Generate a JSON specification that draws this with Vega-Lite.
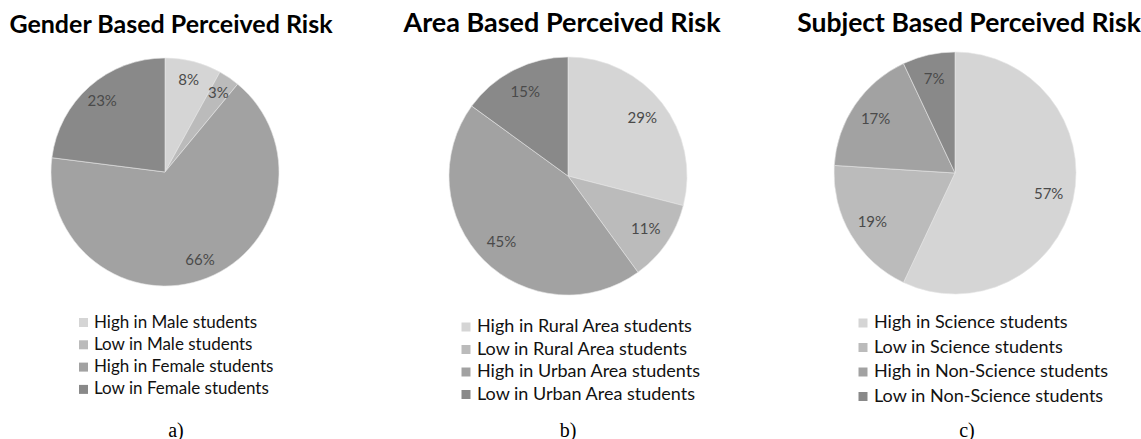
{
  "$schema": "https://vega.github.io/schema/vega-lite/v6.json",
  "background": "white",
  "padding": {"left": 0, "top": 10, "right": 0, "bottom": 0},
  "config": {
    "view": {"stroke": null},
    "font": "Lato",
    "title": {"font": "Lato", "fontSize": 25, "fontWeight": "bold", "color": "#000000", "anchor": "middle", "frame": "group", "offset": 13},
    "legend": {"orient": "none", "title": null, "padding": 0, "symbolType": "square", "symbolSize": 81, "symbolStrokeWidth": 0, "labelFont": "Lato", "labelFontSize": 18, "labelColor": "#111111", "labelOffset": 2, "labelLimit": 500, "rowPadding": 5},
    "text": {"font": "Lato"}
  },
  "spacing": 15,
  "vconcat": [
    {
      "bounds": "flush",
      "spacing": 10,
      "resolve": {"scale": {"color": "independent", "theta": "independent"}, "legend": {"color": "independent"}},
      "hconcat": [
        {
          "title": {"text": "Gender Based Perceived Risk", "dx": 6},
          "width": 330,
          "height": 242,
          "data": {"values": [
            {"cat": "High in Male students", "pct": 8, "ord": 1, "label": "8%"},
            {"cat": "Low in Male students", "pct": 3, "ord": 2, "label": "3%"},
            {"cat": "High in Female students", "pct": 66, "ord": 3, "label": "66%"},
            {"cat": "Low in Female students", "pct": 23, "ord": 4, "label": "23%"}
          ]},
          "encoding": {
            "theta": {"field": "pct", "type": "quantitative", "stack": true},
            "order": {"field": "ord", "type": "quantitative"}
          },
          "layer": [
            {
              "mark": {"type": "arc", "outerRadius": 114, "stroke": "#e6e6e6", "strokeWidth": 0.6},
              "encoding": {
                "color": {"field": "cat", "type": "nominal",
                  "scale": {"domain": ["High in Male students", "Low in Male students", "High in Female students", "Low in Female students"], "range": ["#d5d5d5", "#bbbbbb", "#a2a2a2", "#898989"]},
                  "legend": {"legendX": 75, "legendY": 263, "rowPadding": 4.3, "labelFontSize": 17}}
              }
            },
            {
              "mark": {"type": "text", "radius": 95, "fontSize": 15, "color": "#4a4a4a"},
              "encoding": {"text": {"field": "label", "type": "nominal"}}
            }
          ]
        },
        {
          "title": {"text": "Area Based Perceived Risk", "dx": -6, "fontSize": 27},
          "width": 456,
          "height": 250,
          "data": {"values": [
            {"cat": "High in Rural Area students", "pct": 29, "ord": 1, "label": "29%"},
            {"cat": "Low in Rural Area students", "pct": 11, "ord": 2, "label": "11%"},
            {"cat": "High in Urban Area students", "pct": 45, "ord": 3, "label": "45%"},
            {"cat": "Low in Urban Area students", "pct": 15, "ord": 4, "label": "15%"}
          ]},
          "encoding": {
            "theta": {"field": "pct", "type": "quantitative", "stack": true},
            "order": {"field": "ord", "type": "quantitative"}
          },
          "layer": [
            {
              "mark": {"type": "arc", "outerRadius": 119, "stroke": "#e6e6e6", "strokeWidth": 0.6},
              "encoding": {
                "color": {"field": "cat", "type": "nominal",
                  "scale": {"domain": ["High in Rural Area students", "Low in Rural Area students", "High in Urban Area students", "Low in Urban Area students"], "range": ["#d5d5d5", "#bbbbbb", "#a2a2a2", "#898989"]},
                  "legend": {"legendX": 117, "legendY": 267, "rowPadding": 4.5}}
              }
            },
            {
              "mark": {"type": "text", "radius": 94, "fontSize": 15, "color": "#4a4a4a"},
              "encoding": {"text": {"field": "label", "type": "nominal"}}
            }
          ]
        },
        {
          "title": {"text": "Subject Based Perceived Risk", "dx": 14, "fontSize": 26.5},
          "width": 298,
          "height": 244,
          "data": {"values": [
            {"cat": "High in Science students", "pct": 57, "ord": 1, "label": "57%"},
            {"cat": "Low in Science students", "pct": 19, "ord": 2, "label": "19%"},
            {"cat": "High in Non-Science students", "pct": 17, "ord": 3, "label": "17%"},
            {"cat": "Low in Non-Science students", "pct": 7, "ord": 4, "label": "7%"}
          ]},
          "encoding": {
            "theta": {"field": "pct", "type": "quantitative", "stack": true},
            "order": {"field": "ord", "type": "quantitative"}
          },
          "layer": [
            {
              "mark": {"type": "arc", "outerRadius": 121, "stroke": "#e6e6e6", "strokeWidth": 0.6},
              "encoding": {
                "color": {"field": "cat", "type": "nominal",
                  "scale": {"domain": ["High in Science students", "Low in Science students", "High in Non-Science students", "Low in Non-Science students"], "range": ["#d5d5d5", "#bbbbbb", "#a2a2a2", "#898989"]},
                  "legend": {"legendX": 48, "legendY": 263, "rowPadding": 6.5}}
              }
            },
            {
              "mark": {"type": "text", "radius": 96, "fontSize": 15, "color": "#4a4a4a"},
              "encoding": {"text": {"field": "label", "type": "nominal"}}
            }
          ]
        }
      ]
    },
    {
      "bounds": "flush",
      "spacing": 10,
      "hconcat": [
        {
          "width": 330, "height": 20,
          "data": {"values": [{"cap": "a)"}]},
          "mark": {"type": "text", "font": "Liberation Serif", "fontSize": 20, "color": "#000000", "dx": 11},
          "encoding": {"text": {"field": "cap", "type": "nominal"}}
        },
        {
          "width": 456, "height": 20,
          "data": {"values": [{"cap": "b)"}]},
          "mark": {"type": "text", "font": "Liberation Serif", "fontSize": 20, "color": "#000000", "dx": 0},
          "encoding": {"text": {"field": "cap", "type": "nominal"}}
        },
        {
          "width": 298, "height": 20,
          "data": {"values": [{"cap": "c)"}]},
          "mark": {"type": "text", "font": "Liberation Serif", "fontSize": 20, "color": "#000000", "dx": 12},
          "encoding": {"text": {"field": "cap", "type": "nominal"}}
        }
      ]
    }
  ]
}
